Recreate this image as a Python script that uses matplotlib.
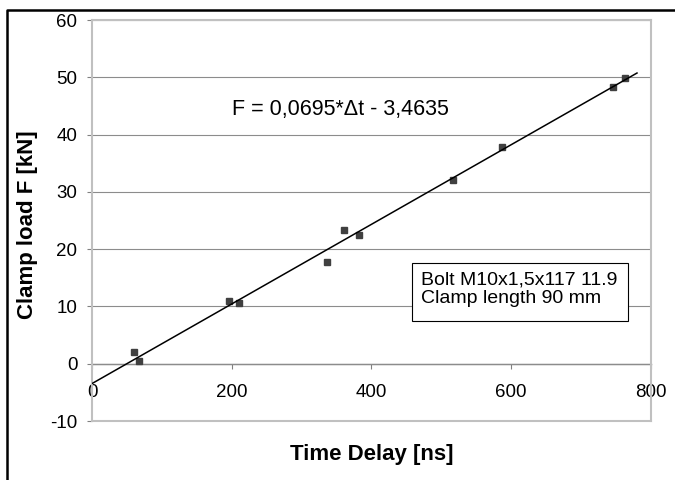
import matplotlib.pyplot as plt
from matplotlib.patches import Rectangle
from matplotlib.lines import Line2D

# measured points: time delay [ns] vs clamp load [kN]
delay_ns = [60, 67, 196, 211, 336, 361, 382, 516, 587, 746, 763]
load_kn = [2.0, 0.5, 11.0, 10.6, 17.8, 23.3, 22.5, 32.0, 37.9, 48.3, 49.8]

# trendline from the equation in the chart
slope = 0.0695
intercept = -3.4635
trend_x = [0, 780]

x_ticks = [0, 200, 400, 600, 800]
y_ticks = [-10, 0, 10, 20, 30, 40, 50, 60]

plt.rcParams["font.family"] = ["Liberation Sans", "DejaVu Sans"]
plt.rcParams["axes.unicode_minus"] = False

fig = plt.figure(figsize=(6.75, 4.8), dpi=100)
ax = fig.add_axes([0.1363, 0.1229, 0.8281, 0.8354])

ymin, ymax = -10, 60
ax.set_xlim(0, 800)
ax.set_ylim(ymin, ymax)
ax.set_yticks(y_ticks)

# frame + grid
for s in ax.spines.values():
    s.set_color("#c0c0c0")
    s.set_linewidth(1.5)
ax.yaxis.grid(True, color="#8c8c8c", linewidth=0.8)
ax.set_axisbelow(True)
ax.tick_params(axis="x", bottom=False, labelbottom=False)
ax.tick_params(axis="y", direction="out", length=3.6, pad=7, labelsize=13.5,
               color="#808080")

# x axis drawn along y = 0
sec = ax.secondary_xaxis((0 - ymin) / (ymax - ymin))
sec.set_xticks(x_ticks)
sec.tick_params(direction="out", length=3.6, pad=11, labelsize=13.5, color="#808080")
sec.spines["bottom"].set_color("#808080")
sec.spines["bottom"].set_linewidth(1.0)

ax.plot(delay_ns, load_kn, "s", color="#404040", markersize=5, zorder=3)
trend_y = [slope * x + intercept for x in trend_x]
ax.plot(trend_x, trend_y, color="black", linewidth=1.1, zorder=4)

ax.text(0.444, 0.778, "F = 0,0695*Δt - 3,4635", transform=ax.transAxes,
        ha="center", va="center", fontsize=15.5)

ax.add_patch(Rectangle((0.5725, 0.2494), 0.3864, 0.1446, transform=ax.transAxes,
                       facecolor="white", edgecolor="black", linewidth=0.8, zorder=5))
ax.text(0.5886, 0.329, "Bolt M10x1,5x117 11.9\nClamp length 90 mm",
        transform=ax.transAxes, ha="left", va="center", fontsize=14,
        linespacing=1.15, zorder=6)

ax.set_xlabel("Time Delay [ns]", fontsize=16, fontweight="bold")
ax.set_ylabel("Clamp load F [kN]", fontsize=16, fontweight="bold")
ax.xaxis.set_label_coords(0.5, -0.058)
ax.yaxis.set_label_coords(-0.097, 0.49)

# outer frame (left and top only)
fig.add_artist(Line2D([0.0111, 0.0111, 1.0], [0.0, 0.979, 0.979],
                      transform=fig.transFigure, color="black", linewidth=1.8))

fig.savefig("out.png", dpi=100)
plt.close()
